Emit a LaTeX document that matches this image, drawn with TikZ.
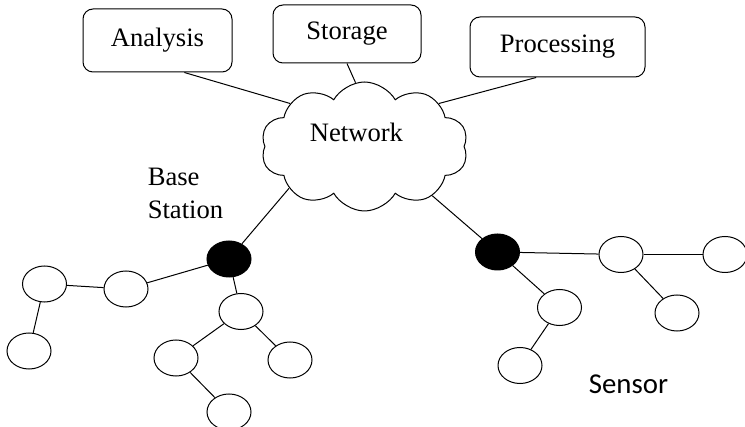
\documentclass[tikz,border=0pt]{standalone}
\usepackage{fontspec}
\setmainfont{Liberation Serif}
\newfontfamily\sensorfont{Carlito}
\usetikzlibrary{shapes.geometric, shapes.symbols}

\begin{document}
\begin{tikzpicture}[
  x=0.5pt, y=-0.5pt,
  box/.style={rectangle, draw, rounded corners=5pt, align=center, inner sep=0pt, font=\fontsize{13.3}{15}\selectfont},
  sensor/.style={ellipse, draw, minimum width=22pt, minimum height=18pt, inner sep=0pt},
  base/.style={sensor, fill=black},
  link/.style={line width=0.5pt},
  every node/.append style={line width=0.5pt}
]
\useasboundingbox (0,0) rectangle (745,427);

\node[box, minimum width=74.5pt, minimum height=31.5pt] (analysis) at (157.5,40.5) {Analysis};
\node[box, minimum width=74pt, minimum height=29pt] (storage) at (347,34) {Storage};
\node[box, minimum width=87.5pt, minimum height=30pt] (processing) at (557.5,47) {Processing};
\node[cloud, draw, cloud puffs=10, cloud puff arc=120, aspect=1.6, minimum width=103.5pt, minimum height=64.5pt, inner sep=0pt] (net) at (364.5,146.5) {};
\node[font=\fontsize{13.3}{15}\selectfont, inner sep=0pt] (nettext) at (356.5,132.5) {Network};
\node[align=left, inner sep=0pt, font=\fontsize{13.3}{16.5}\selectfont] (bstext) at (185.5,193) {Base\\Station};

\node[base] (bs1) at (229,259) {};
\node[sensor] (s1) at (126,289) {};
\node[sensor] (s2) at (44.5,284) {};
\node[sensor] (s3) at (29,351) {};
\node[sensor] (s4) at (241,311.5) {};
\node[sensor] (s5) at (176,358) {};
\node[sensor] (s6) at (290,360) {};
\node[sensor] (s7) at (229,412) {};

\node[base] (bs2) at (497.5,252) {};
\node[sensor] (s8) at (621,254.5) {};
\node[sensor] (s9) at (725,254.5) {};
\node[sensor] (s10) at (559.5,307.5) {};
\node[sensor] (s11) at (520,365.5) {};
\node[sensor] (s12) at (677,313) {};

\node[font=\sensorfont\fontsize{14.4}{16}\selectfont, inner sep=0pt] (sensortext) at (628.5,384) {Sensor};

\draw[link] (analysis.-50) -- (net.150);
\draw[link] (storage.south) -- (net.98);
\draw[link] (processing.-125) -- (net.30);
\draw[link] (net.-151) -- (bs1);
\draw[link] (net.-36) -- (bs2);

\draw[link] (bs1) -- (s1);
\draw[link] (s1) -- (s2);
\draw[link] (s2) -- (s3);
\draw[link] (bs1) -- (s4);
\draw[link] (s4) -- (s5);
\draw[link] (s4) -- (s6);
\draw[link] (s5) -- (s7);

\draw[link] (bs2) -- (s8);
\draw[link] (s8) -- (s9);
\draw[link] (s8) -- (s12);
\draw[link] (bs2) -- (s10);
\draw[link] (s10) -- (s11);
\end{tikzpicture}
\end{document}
